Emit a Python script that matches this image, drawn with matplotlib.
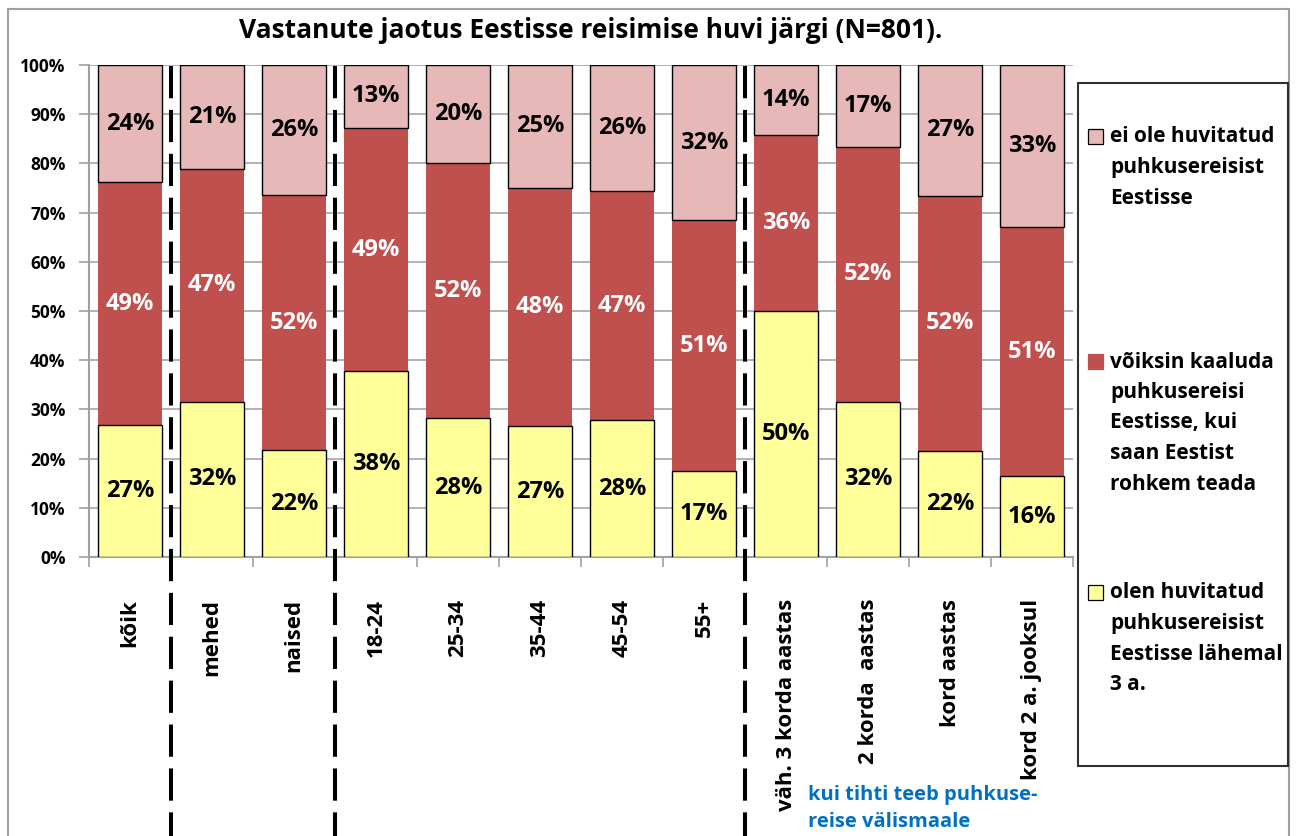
import matplotlib.pyplot as plt
from matplotlib.patches import Rectangle
from matplotlib.transforms import blended_transform_factory
import numpy as np

W, H = 1297, 836

categories = ["kõik", "mehed", "naised", "18-24", "25-34", "35-44", "45-54", "55+",
              "väh. 3 korda aastas", "2 korda  aastas", "kord aastas", "kord 2 a. jooksul"]
interested = [26.8, 31.6, 21.7, 37.8, 28.2, 26.6, 27.8, 17.4, 50.0, 31.6, 21.6, 16.4]
maybe = [49.4, 47.2, 51.9, 49.4, 51.9, 48.4, 46.6, 51.0, 35.7, 51.7, 51.8, 50.6]
not_interested = [23.8, 21.2, 26.4, 12.8, 19.9, 25.0, 25.6, 31.6, 14.3, 16.7, 26.6, 33.0]
separators = [0.5, 2.5, 7.5]

legend_labels = [
    ["ei ole huvitatud", "puhkusereisist", "Eestisse"],
    ["võiksin kaaluda", "puhkusereisi", "Eestisse, kui", "saan Eestist", "rohkem teada"],
    ["olen huvitatud", "puhkusereisist", "Eestisse lähemal", "3 a."],
]
title = "Vastanute jaotus Eestisse reisimise huvi järgi (N=801)."
note = ["kui tihti teeb puhkuse-", "reise välismaale"]

c_yellow = "#FFFF99"
c_red = "#C0504D"
c_pink = "#E6B9B8"
grey = "#A0A0A0"

plt.rcParams["font.family"] = ["Open Sans", "DejaVu Sans"]
plt.rcParams["font.weight"] = "bold"


def fx(x):
    return x / W


def fy(y):
    return 1 - y / H


fig = plt.figure(figsize=(W / 100, H / 100), dpi=100)
ax = fig.add_axes([fx(89), fy(557), (1073 - 89) / W, (557 - 65) / H])

x = np.arange(len(categories))
a = np.array(interested)
b = np.array(maybe)
c = np.array(not_interested)
bw = 0.78

ax.bar(x, b, bw, bottom=a, color=c_red, edgecolor="none", zorder=2)
ax.bar(x, a, bw, color=c_yellow, edgecolor="black", linewidth=1.0, zorder=3)
ax.bar(x, c, bw, bottom=a + b, color=c_pink, edgecolor="black", linewidth=1.0, zorder=3)

for i in x:
    ax.text(i, a[i] / 2, f"{a[i]:.0f}%", ha="center", va="center", fontsize=17,
            fontweight="bold", color="black", zorder=4)
    ax.text(i, a[i] + b[i] / 2, f"{b[i]:.0f}%", ha="center", va="center", fontsize=17,
            fontweight="bold", color="white", zorder=4)
    ax.text(i, a[i] + b[i] + c[i] / 2, f"{c[i]:.0f}%", ha="center", va="center",
            fontsize=17, fontweight="bold", color="black", zorder=4)

ax.set_xlim(-0.5, len(categories) - 0.5)
ax.set_ylim(0, 100)
ax.set_yticks(range(0, 101, 10))
ax.set_yticklabels([f"{v}%" for v in range(0, 101, 10)], fontsize=12.5, fontweight="bold")
ax.set_xticks(x)
ax.set_xticklabels(categories, rotation=90, fontsize=16, fontweight="bold")
ax.set_xticks(np.arange(-0.5, len(categories), 1), minor=True)
ax.tick_params(axis="x", which="major", length=0, pad=30)
ax.tick_params(axis="x", which="minor", length=7, color=grey, width=1.2)
ax.tick_params(axis="y", length=7, color=grey, width=1.2, pad=10)
ax.yaxis.grid(True, color="#A6A6A6", linewidth=1.2, zorder=0)
ax.set_axisbelow(True)
for s in ["top", "right"]:
    ax.spines[s].set_visible(False)
for s in ["left", "bottom"]:
    ax.spines[s].set_color(grey)
    ax.spines[s].set_linewidth(1.5)

# dashed group separators running down to the bottom of the picture
trans = blended_transform_factory(ax.transData, fig.transFigure)
for s in separators:
    ax.plot([s, s], [fy(66), 0], transform=trans, color="black", lw=2.9,
            dashes=(8, 2.9), clip_on=False, zorder=5)

# outer chart frame
fig.patches.append(Rectangle((fx(8), -0.1), (1289 - 8) / W, fy(9) + 0.1, fill=False,
                             edgecolor=grey, linewidth=1.5, transform=fig.transFigure))

fig.text(fx(591), fy(31), title, ha="center", va="center", fontsize=19,
         fontweight="bold", family=["Liberation Sans Narrow", "Open Sans", "DejaVu Sans"])

# legend box
fig.patches.append(Rectangle((fx(1078), fy(766)), (1288 - 1078) / W, (766 - 83) / H,
                             facecolor="white", edgecolor="#303030", linewidth=1.5,
                             transform=fig.transFigure))
item_tops = [137, 362, 593]
for lines, top, col in zip(legend_labels, item_tops, [c_pink, c_red, c_yellow]):
    fig.patches.append(Rectangle((fx(1088), fy(top + 7)), 15 / W, 15 / H, facecolor=col,
                                 edgecolor="black" if col != c_red else col,
                                 linewidth=0.9, transform=fig.transFigure))
    for j, line in enumerate(lines):
        fig.text(fx(1110), fy(top + j * 30.5), line, ha="left", va="center",
                 fontsize=15, fontweight="bold")

for j, line in enumerate(note):
    fig.text(fx(808), fy(795 + j * 27), line, ha="left", va="center", fontsize=14.5,
             fontweight="bold", color="#0070C0")

fig.savefig("out.png", dpi=100)
